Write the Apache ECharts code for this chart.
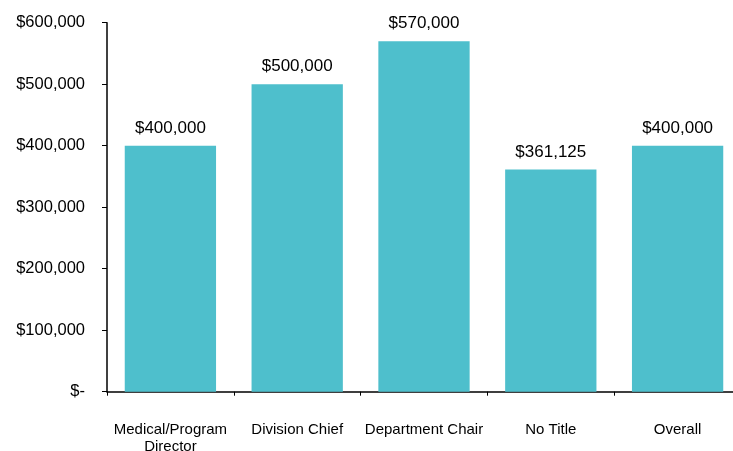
<!DOCTYPE html>
<html>
<head>
<meta charset="utf-8">
<script src="https://cdn.jsdelivr.net/npm/echarts@6/dist/echarts.min.js"></script>
<style>
  html, body { margin: 0; padding: 0; background: #fff; }
  #chart { width: 733px; height: 451px; }
</style>
</head>
<body>
<div id="chart"></div>
<script>
// Median compensation by title
const categories = ['Medical/Program\nDirector', 'Division Chief', 'Department Chair', 'No Title', 'Overall'];
const values = [400000, 500000, 570000, 361125, 400000];
const yTicks = [0, 100000, 200000, 300000, 400000, 500000, 600000];

const fmt = v => v === 0 ? '$-' : '$' + v.toLocaleString('en-US');
const font = '"Liberation Sans", Arial, sans-serif';

const chart = echarts.init(document.getElementById('chart'));
chart.setOption({
  animation: false,
  textStyle: { fontFamily: font },
  // plot area runs slightly past the right edge of the canvas
  grid: {
    left: 107, width: 634, top: 22.7, bottom: 59.3,
    containLabel: false, outerBoundsMode: 'none'
  },
  xAxis: {
    type: 'category',
    data: categories,
    axisLine: { lineStyle: { color: '#000', width: 1.5 } },
    axisTick: { show: true, interval: 0, length: 4, lineStyle: { color: '#000' } },
    axisLabel: { interval: 0, color: '#000', fontSize: 15, margin: 29, lineHeight: 17.5, fontFamily: font }
  },
  yAxis: {
    type: 'value',
    min: yTicks[0],
    max: yTicks[yTicks.length - 1],
    interval: 100000,
    splitLine: { show: false },
    axisLine: { show: true, lineStyle: { color: '#000', width: 1.5 } },
    axisTick: { show: true, length: 5, lineStyle: { color: '#000' } },
    axisLabel: { color: '#000', fontSize: 16.5, margin: 22, fontFamily: font, formatter: fmt }
  },
  series: [{
    type: 'bar',
    data: values,
    barWidth: '72%',
    itemStyle: { color: '#4EBFCC' },
    label: {
      show: true,
      position: 'top',
      distance: 9,
      color: '#000',
      fontSize: 17,
      fontFamily: font,
      formatter: p => fmt(p.value)
    }
  }]
});
</script>
</body>
</html>
